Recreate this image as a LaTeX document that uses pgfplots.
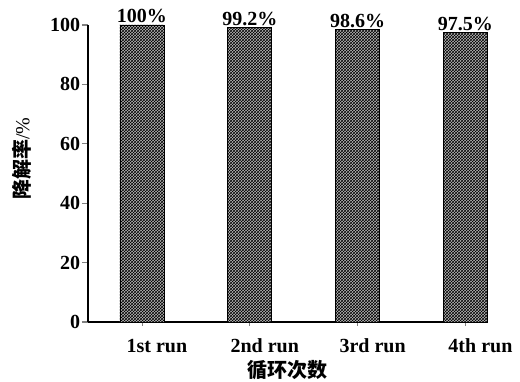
\documentclass[border=0pt]{standalone}
\usepackage{pgfplots}
\pgfplotsset{compat=1.18}
\usetikzlibrary{patterns}
\usepackage{fontspec}
\setmainfont{Liberation Serif}
\newfontfamily\cjk{Noto Sans CJK SC}

\begin{document}
\begin{tikzpicture}
% fixed page frame around the axis box
\path[use as bounding box] (-88pt,-60pt) rectangle (432pt,322pt);
\begin{axis}[
  scale only axis,
  width=399pt, height=297pt,
  xmin=-0.5, xmax=3.2,
  ymin=0, ymax=100,
  axis lines*=left,
  axis line style={line width=1.3pt},
  xtick={0,1,2,3},
  xticklabels={1st run,2nd run,3rd run,4th run},
  ytick={0,20,40,60,80,100},
  xtick style={line width=0.8pt},
  ytick style={line width=1.2pt},
  x tick style={/pgfplots/major tick length=4pt},
  y tick style={/pgfplots/major tick length=6pt},
  xtick align=inside,
  ytick align=outside,
  /pgf/number format/assume math mode=true,
  ticklabel style={font=\fontsize{20}{23}\selectfont\bfseries},
  xticklabel style={xshift=15pt, yshift=-9pt},
  xlabel={\cjk\bfseries 循环次数},
  ylabel={{\cjk\bfseries 降解率}/\%},
  label style={font=\fontsize{20}{23}\selectfont},
  xlabel style={yshift=-1pt},
  ylabel style={yshift=12pt, xshift=15pt},
  ybar,
  bar width=44pt,
  nodes near coords={\pgfmathprintnumber{\pgfplotspointmeta}\%},
  nodes near coords style={font=\fontsize{20}{23}\selectfont\bfseries, inner sep=1.5pt},
  clip=false,
]
\addplot[draw=black, line width=0.6pt, fill=gray!55,
  postaction={pattern=crosshatch, pattern color=black}]
  coordinates {(0,100) (1,99.2) (2,98.6) (3,97.5)};
\end{axis}
\end{tikzpicture}
\end{document}
